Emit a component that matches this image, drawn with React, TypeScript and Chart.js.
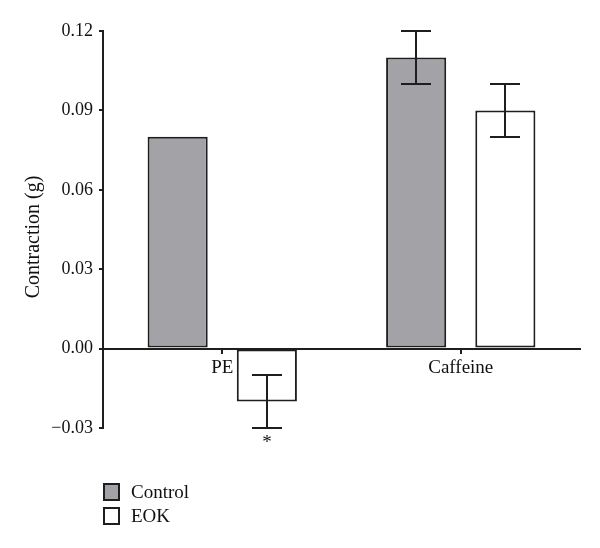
import React, { useEffect, useRef } from "react";
import { Chart, registerables } from "chart.js";

Chart.register(...registerables);

const categories = ["PE", "Caffeine"];
const seriesNames = ["Control", "EOK"];
const controlValues = [0.08, 0.11];
const controlErrors = [0, 0.01];
const eokValues = [-0.02, 0.09];
const eokErrors = [0.01, 0.01];
const eokSignificance = ["*", ""];
const yTicks = { min: -0.03, max: 0.12, step: 0.03 };
const yTitle = "Contraction (g)";

const FONT = "'Liberation Serif', 'Times New Roman', serif";
const INK = "#1e1e1e";
const TEXT = "#111111";
const GRAY = "#a3a2a7";

const errorsBySeries = [controlErrors, eokErrors];
const marksBySeries = [["", ""], eokSignificance];

const errorBarPlugin = {
  id: "errorBars",
  afterDatasetsDraw(chart: any) {
    const ctx = chart.ctx;
    const yScale = chart.scales.y;
    ctx.save();
    ctx.strokeStyle = INK;
    ctx.lineWidth = 2;
    chart.data.datasets.forEach((ds: any, i: number) => {
      const meta = chart.getDatasetMeta(i);
      meta.data.forEach((el: any, j: number) => {
        const v = ds.data[j];
        const e = errorsBySeries[i][j];
        const x = Math.round(el.x);
        if (e && e > 0) {
          const yTop = Math.round(yScale.getPixelForValue(v + e));
          const yBot = Math.round(yScale.getPixelForValue(v - e));
          const half = 15;
          ctx.beginPath();
          ctx.moveTo(x, yTop);
          ctx.lineTo(x, yBot);
          ctx.moveTo(x - half, yTop);
          ctx.lineTo(x + half, yTop);
          ctx.moveTo(x - half, yBot);
          ctx.lineTo(x + half, yBot);
          ctx.stroke();
        }
        const mark = marksBySeries[i][j];
        if (mark) {
          const yLow = yScale.getPixelForValue(v - (e || 0));
          ctx.fillStyle = TEXT;
          ctx.font = `19px ${FONT}`;
          ctx.textAlign = "center";
          ctx.textBaseline = "alphabetic";
          ctx.fillText(mark, x, yLow + 20);
        }
      });
    });
    ctx.restore();
  },
};

const titleAndLegendPlugin = {
  id: "titleAndLegend",
  afterDraw(chart: any) {
    const ctx = chart.ctx;
    ctx.save();
    // y-axis title
    ctx.fillStyle = TEXT;
    ctx.font = `20px ${FONT}`;
    ctx.textAlign = "center";
    ctx.textBaseline = "middle";
    ctx.translate(34, 237);
    ctx.rotate(-Math.PI / 2);
    ctx.fillText(yTitle, 0, 0);
    ctx.setTransform(1, 0, 0, 1, 0, 0);
    // legend
    const x0 = 104;
    const rows = [492, 516];
    chart.data.datasets.forEach((ds: any, i: number) => {
      const cy = rows[i];
      ctx.fillStyle = ds.backgroundColor;
      ctx.fillRect(x0, cy - 8, 15, 16);
      ctx.strokeStyle = INK;
      ctx.lineWidth = 2;
      ctx.strokeRect(x0, cy - 8, 15, 16);
      ctx.fillStyle = TEXT;
      ctx.font = `19px ${FONT}`;
      ctx.textAlign = "left";
      ctx.textBaseline = "middle";
      ctx.fillText(ds.label, 131, cy + 1);
    });
    ctx.restore();
  },
};

export default function App() {
  const canvasRef = useRef<HTMLCanvasElement | null>(null);

  useEffect(() => {
    document.body.style.margin = "0";
    const canvas = canvasRef.current;
    if (!canvas) return;
    const chart = new Chart(canvas, {
      type: "bar",
      data: {
        labels: categories,
        datasets: [
          {
            label: seriesNames[0],
            data: controlValues,
            backgroundColor: GRAY,
            borderColor: INK,
            borderWidth: 2,
            borderSkipped: false,
          },
          {
            label: seriesNames[1],
            data: eokValues,
            backgroundColor: "#ffffff",
            borderColor: INK,
            borderWidth: 2,
            borderSkipped: false,
          },
        ],
      },
      options: {
        responsive: false,
        animation: false,
        devicePixelRatio: 1,
        categoryPercentage: 0.748,
        barPercentage: 0.674,
        layout: { padding: { left: 0, right: 20, top: 31, bottom: 120 } },
        plugins: {
          legend: { display: false },
          tooltip: { enabled: false },
        },
        scales: {
          x: {
            position: { y: 0 } as any,
            offset: true,
            grid: {
              display: true,
              offset: false,
              drawOnChartArea: false,
              drawTicks: true,
              tickLength: 4,
              color: INK,
              lineWidth: 2,
            },
            border: { display: true, color: INK, width: 2 },
            ticks: {
              color: TEXT,
              font: { family: FONT, size: 19 },
              padding: 4,
              maxRotation: 0,
            },
          },
          y: {
            min: yTicks.min,
            max: yTicks.max,
            afterFit: (scale: any) => {
              scale.width = 103;
            },
            grid: {
              display: true,
              drawOnChartArea: false,
              drawTicks: true,
              tickLength: 4,
              color: INK,
              lineWidth: 2,
            },
            border: { display: true, color: INK, width: 2 },
            ticks: {
              stepSize: yTicks.step,
              color: TEXT,
              font: { family: FONT, size: 18 },
              padding: 6,
              callback: (v: any) => {
                const n = Number(v);
                const s = Math.abs(n).toFixed(2);
                return n < -1e-9 ? "\u2212" + s : s;
              },
            },
            title: { display: false },
          },
        },
      },
      plugins: [errorBarPlugin, titleAndLegendPlugin],
    });
    return () => chart.destroy();
  }, []);

  return (
    <div style={{ width: 600, height: 548, background: "#fff" }}>
      <canvas ref={canvasRef} width={600} height={548} style={{ display: "block" }} />
    </div>
  );
}
